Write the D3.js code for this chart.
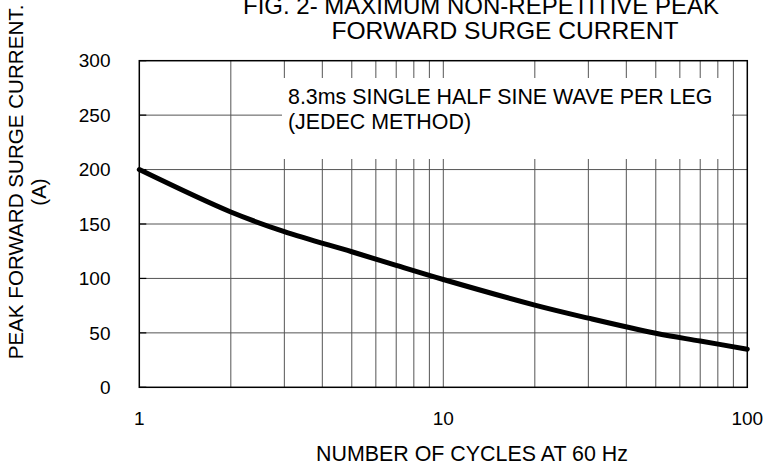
<!DOCTYPE html>
<html><head><meta charset="utf-8">
<script src="https://cdn.jsdelivr.net/npm/d3@7/dist/d3.min.js"></script>
<style>body{margin:0;background:#fff}svg{display:block}text{font-family:"Liberation Sans",Arial,sans-serif;fill:#000}</style>
</head><body>
<svg id="c" width="778" height="468"></svg>
<script>
const cycles = [1, 2, 3, 5, 7, 10, 20, 30, 50, 70, 100];
const current = [200, 161, 143, 124.5, 112, 99, 75.5, 63.5, 49.6, 42.5, 35];
const xGrid = [2, 3, 4, 5, 6, 7, 8, 9, 10, 20, 30, 40, 50, 60, 70, 80, 90];
const yTicks = [0, 50, 100, 150, 200, 250, 300];
const xTickLabels = [1, 10, 100];
const titleLines = ["FIG. 2- MAXIMUM NON-REPETITIVE PEAK", "FORWARD SURGE CURRENT"];
const yTitleLines = ["PEAK FORWARD SURGE CURRENT.", "(A)"];
const xTitle = "NUMBER OF CYCLES AT 60 Hz";
const noteLines = ["8.3ms SINGLE HALF SINE WAVE PER LEG", "(JEDEC METHOD)"];

const svg = d3.select("#c");
const L = 139.3, R = 747.3, T = 60.7, B = 387.3;
const x = d3.scaleLog().domain([1, 100]).range([L, R]);
const y = d3.scaleLinear().domain([0, 300]).range([B, T]);

// grid
svg.append("g").selectAll("line").data(xGrid).join("line")
  .attr("x1", d => x(d)).attr("x2", d => x(d)).attr("y1", T).attr("y2", B)
  .attr("stroke", "#555").attr("stroke-width", 1);
svg.append("g").selectAll("line").data(yTicks.slice(1, -1)).join("line")
  .attr("x1", L).attr("x2", R).attr("y1", d => y(d)).attr("y2", d => y(d))
  .attr("stroke", "#555").attr("stroke-width", 1);

// note box
svg.append("rect").attr("x", 282).attr("y", 78).attr("width", 450).attr("height", 81).attr("fill", "#fff");
svg.append("g").selectAll("text").data(noteLines).join("text")
  .attr("x", 288).attr("y", (d, i) => 103.5 + i * 25.5)
  .attr("font-size", 21.4).text(d => d);

// inner ticks on left axis
svg.append("g").selectAll("line").data(yTicks).join("line")
  .attr("x1", L).attr("x2", L + 7).attr("y1", d => y(d)).attr("y2", d => y(d))
  .attr("stroke", "#000").attr("stroke-width", 1.2);

// frame
svg.append("rect").attr("x", L).attr("y", T).attr("width", R - L).attr("height", B - T)
  .attr("fill", "none").attr("stroke", "#000").attr("stroke-width", 1.5);

// curve
const line = d3.line().x((d, i) => x(cycles[i])).y(d => y(d)).curve(d3.curveCatmullRom.alpha(0.5));
svg.append("path").datum(current).attr("d", line)
  .attr("fill", "none").attr("stroke", "#000").attr("stroke-width", 5).attr("stroke-linecap", "round");

// y tick labels
svg.append("g").selectAll("text").data(yTicks).join("text")
  .attr("x", 110.5).attr("y", d => y(d)).attr("dy", "0.35em").attr("text-anchor", "end")
  .attr("font-size", 19).text(d => d);
// x tick labels
svg.append("g").selectAll("text").data(xTickLabels).join("text")
  .attr("x", d => x(d)).attr("y", 425).attr("text-anchor", "middle")
  .attr("font-size", 19).text(d => d);

// titles
svg.append("g").selectAll("text").data(titleLines).join("text")
  .attr("x", (d, i) => i === 0 ? 481 : 505).attr("y", (d, i) => 14 + i * 24.5)
  .attr("text-anchor", "middle").attr("font-size", (d, i) => i === 0 ? 24 : 24.6).text(d => d);
svg.append("text").attr("x", 472).attr("y", 461).attr("text-anchor", "middle")
  .attr("font-size", 21.4).text(xTitle);
svg.append("g").selectAll("text").data(yTitleLines).join("text")
  .attr("transform", (d, i) => `translate(${i === 0 ? 23 : 46},${i === 0 ? 182 : 192}) rotate(-90)`)
  .attr("text-anchor", "middle").attr("font-size", 20.6).text(d => d);
</script>
</body></html>
